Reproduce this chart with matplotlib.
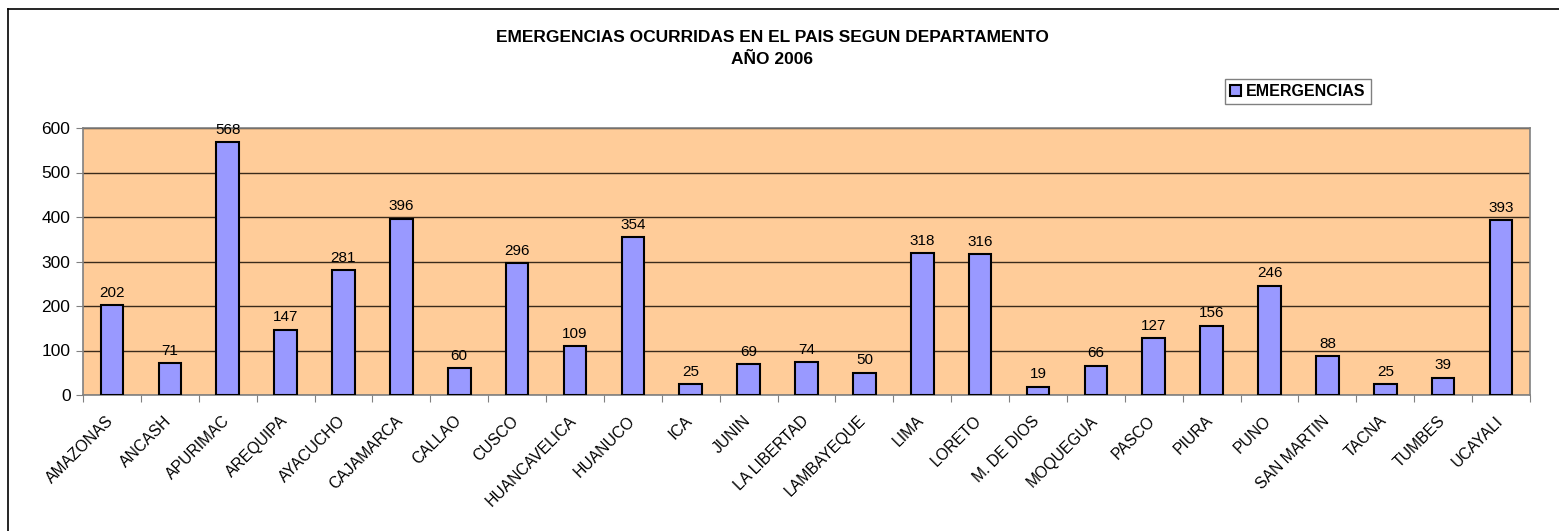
import matplotlib.pyplot as plt
import matplotlib.transforms as mtransforms
import numpy as np
from matplotlib.lines import Line2D

plt.rcParams['font.family'] = ['Liberation Sans', 'DejaVu Sans']

departamentos = ["AMAZONAS", "ANCASH", "APURIMAC", "AREQUIPA", "AYACUCHO", "CAJAMARCA",
                 "CALLAO", "CUSCO", "HUANCAVELICA", "HUANUCO", "ICA", "JUNIN",
                 "LA LIBERTAD", "LAMBAYEQUE", "LIMA", "LORETO", "M. DE DIOS", "MOQUEGUA",
                 "PASCO", "PIURA", "PUNO", "SAN MARTIN", "TACNA", "TUMBES", "UCAYALI"]
emergencias = [202, 71, 568, 147, 281, 396, 60, 296, 109, 354, 25, 69, 74, 50,
               318, 316, 19, 66, 127, 156, 246, 88, 25, 39, 393]
yticks = [0, 100, 200, 300, 400, 500, 600]

W, H = 1559, 531
fig = plt.figure(figsize=(W / 100, H / 100), dpi=100)
ax = fig.add_axes([83 / W, 1 - 395 / H, (1530 - 83) / W, (395 - 128) / H])

x = np.arange(len(departamentos))
bars = ax.bar(x, emergencias, width=0.39, color='#9999FF', edgecolor='black',
              linewidth=1.5, zorder=3, label='EMERGENCIAS')

ax.set_facecolor('#FFCC99')
ax.set_xlim(-0.5, len(departamentos) - 0.5)
ax.set_ylim(0, 600)
ax.set_yticks(yticks)
ax.set_yticklabels([str(v) for v in yticks], fontsize=12.5)
ax.yaxis.grid(True, color='#3a2a1a', linewidth=1, zorder=1)

# ticks between categories, labels at centres
ax.set_xticks(np.arange(len(departamentos) + 1) - 0.5)
ax.set_xticklabels([])
ax.set_xticks(x, minor=True)
ax.set_xticklabels(departamentos, minor=True, rotation=45, ha='right',
                   rotation_mode='anchor', fontsize=11.3)
ax.tick_params(axis='x', which='minor', length=0, pad=13)
ax.tick_params(axis='x', which='major', length=5, color='#808080', direction='out')
ax.tick_params(axis='y', length=5, color='#808080', direction='out', pad=4)
shift = mtransforms.ScaledTranslation(-6 / 100, 0, fig.dpi_scale_trans)
for lab in ax.get_xticklabels(minor=True):
    lab.set_transform(lab.get_transform() + shift)
for side in ax.spines.values():
    side.set_color('#808080')
    side.set_linewidth(1.2)

for bar, v in zip(bars, emergencias):
    ax.text(bar.get_x() + bar.get_width() / 2, v + 12, str(v),
            ha='center', va='bottom', fontsize=11, clip_on=False)

fig.text(772 / W, 1 - 37 / H, "EMERGENCIAS OCURRIDAS EN EL PAIS SEGUN DEPARTAMENTO",
         ha='center', va='center', fontsize=12.5, fontweight='bold')
fig.text(772 / W, 1 - 60 / H, "AÑO 2006", ha='center', va='center',
         fontsize=12.5, fontweight='bold')

leg = fig.legend(handles=[bars], labels=['EMERGENCIAS'], loc='center',
                 bbox_to_anchor=(1298 / W, 1 - 91.5 / H), fancybox=False,
                 framealpha=1, edgecolor='#808080', prop={'weight': 'bold', 'size': 11.5},
                 handlelength=0.7, handleheight=0.7, handletextpad=0.3,
                 borderpad=0.3, borderaxespad=0)

# outer chart frame
fig.add_artist(Line2D([8 / W, 8 / W], [0, 1 - 9 / H], color='black', linewidth=1.2))
fig.add_artist(Line2D([8 / W, 1], [1 - 9 / H, 1 - 9 / H], color='black', linewidth=1.2))

fig.savefig('out.png', dpi=100)
